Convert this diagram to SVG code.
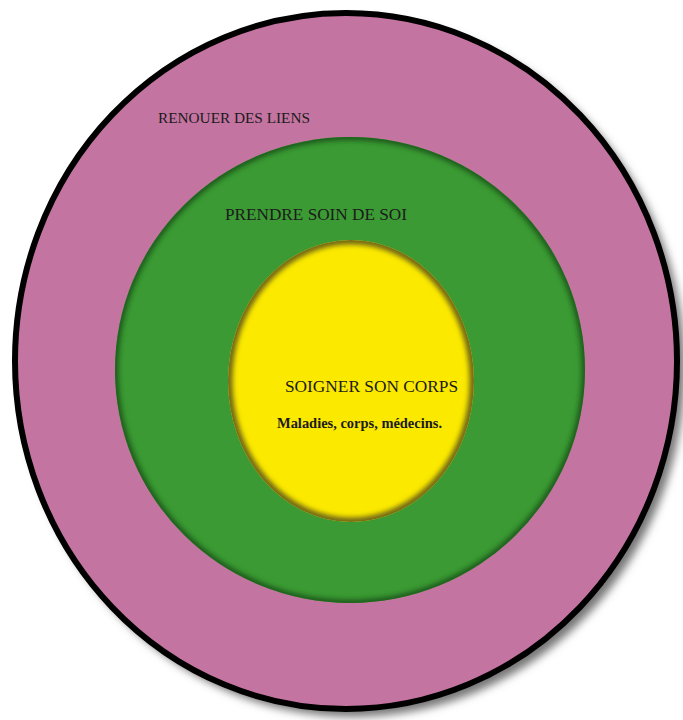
<svg xmlns="http://www.w3.org/2000/svg" width="683" height="720" viewBox="0 0 683 720">
<style>
.lbl{font-family:"Liberation Serif","DejaVu Serif",serif;fill:#1c1a1c}
</style>
<defs>
<filter id="sh" x="-10%" y="-10%" width="120%" height="120%"><feGaussianBlur stdDeviation="4"/></filter>
<filter id="bl2" x="-10%" y="-10%" width="120%" height="120%"><feGaussianBlur stdDeviation="2.5"/></filter>
<clipPath id="cg"><ellipse cx="350" cy="370" rx="235" ry="233"/></clipPath>
<clipPath id="cy"><ellipse cx="351" cy="381" rx="123" ry="141"/></clipPath>
</defs>
<rect width="683" height="720" fill="#ffffff"/>
<g id="outer">
<ellipse cx="353" cy="368" rx="332" ry="349" fill="#777" filter="url(#sh)"/>
<ellipse cx="346" cy="361" rx="331" ry="348" fill="#c474a0" stroke="#000" stroke-width="6"/>
<text class="lbl" x="158" y="123" font-size="14" textLength="152" lengthAdjust="spacingAndGlyphs">RENOUER DES LIENS</text>
</g>
<g id="middle">
<ellipse cx="350" cy="370" rx="235" ry="233" fill="#3b9a33"/>
<g clip-path="url(#cg)">
<ellipse cx="350" cy="370" rx="235" ry="233" fill="none" stroke="#1f5a1a" stroke-width="7" filter="url(#bl2)"/>
</g>
<text class="lbl" x="225" y="220" font-size="17" textLength="182" lengthAdjust="spacingAndGlyphs">PRENDRE SOIN DE SOI</text>
</g>
<g id="inner">
<ellipse cx="351" cy="381" rx="123" ry="141" fill="#fbe900"/>
<g clip-path="url(#cy)">
<ellipse cx="351" cy="381" rx="123" ry="141" fill="none" stroke="#6f6612" stroke-width="9" filter="url(#bl2)"/>
</g>
<text class="lbl" x="285" y="392" font-size="17" textLength="173" lengthAdjust="spacingAndGlyphs">SOIGNER SON CORPS</text>
<text class="lbl" x="277" y="428" font-size="14" font-weight="bold" textLength="165" lengthAdjust="spacingAndGlyphs">Maladies, corps, médecins.</text>
</g>
</svg>
